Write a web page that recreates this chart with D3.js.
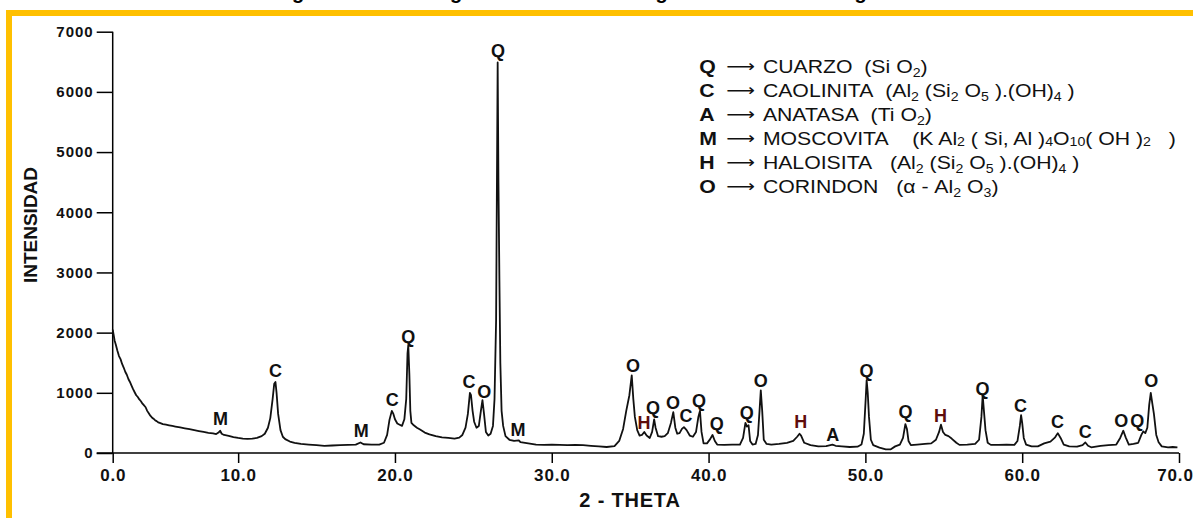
<!DOCTYPE html>
<html>
<head>
<meta charset="utf-8">
<script src="https://cdn.jsdelivr.net/npm/d3@7"></script>
<style>
  body { margin: 0; background: #fff; }
  svg { display: block; font-family: "Liberation Sans", Arial, sans-serif; }
  .formula { white-space: pre; }
</style>
</head>
<body>
<div id="chart"></div>
<script>
// 2-theta / intensity
const twoTheta = [
  2.00, 2.05, 2.12, 2.20, 2.30, 2.40, 2.50, 2.60, 2.70, 2.80, 2.90, 3.00, 3.10, 3.20, 3.30, 3.40,
  3.50, 3.60, 3.70, 3.80, 3.90, 4.00, 4.10, 4.20, 4.30, 4.40, 4.50, 4.60, 4.70, 4.80, 4.90, 5.00,
  5.20, 5.40, 5.60, 5.80, 6.00, 6.30, 6.60, 6.90, 7.20, 7.50, 7.80, 8.10, 8.40, 8.60, 8.75, 8.85,
  8.95, 9.10, 9.40, 9.70, 10.00, 10.30, 10.60, 10.90, 11.20, 11.50, 11.70, 11.90, 12.05, 12.20, 12.30, 12.38,
  12.45, 12.55, 12.70, 12.85, 13.00, 13.30, 13.60, 14.00, 14.50, 15.00, 15.50, 16.00, 16.50, 17.00, 17.50, 17.80,
  18.00, 18.50, 19.00, 19.30, 19.50, 19.65, 19.80, 19.90, 20.00, 20.15, 20.30, 20.45, 20.60, 20.72, 20.80, 20.85,
  20.92, 20.98, 21.05, 21.20, 21.40, 21.60, 21.90, 22.20, 22.60, 23.00, 23.40, 23.80, 24.10, 24.30, 24.50, 24.65,
  24.78, 24.85, 24.95, 25.05, 25.20, 25.35, 25.48, 25.58, 25.68, 25.80, 25.95, 26.10, 26.25, 26.35, 26.45, 26.55,
  26.60, 26.66, 26.72, 26.80, 26.90, 27.05, 27.30, 27.60, 27.90, 28.00, 28.50, 29.00, 29.50, 30.00, 30.50, 31.00,
  31.50, 32.00, 32.50, 33.00, 33.50, 34.00, 34.30, 34.55, 34.75, 34.95, 35.10, 35.20, 35.30, 35.45, 35.60, 35.75,
  35.90, 36.05, 36.25, 36.40, 36.53, 36.62, 36.78, 37.00, 37.20, 37.40, 37.60, 37.75, 37.88, 38.00, 38.15, 38.30,
  38.43, 38.60, 38.80, 39.00, 39.20, 39.35, 39.45, 39.55, 39.68, 39.90, 40.10, 40.25, 40.40, 40.55, 41.00, 41.50,
  42.00, 42.20, 42.35, 42.45, 42.55, 42.65, 42.80, 43.00, 43.15, 43.25, 43.33, 43.42, 43.52, 43.70, 44.00, 44.50,
  45.00, 45.40, 45.65, 45.80, 45.90, 46.10, 46.50, 47.00, 47.50, 47.90, 48.10, 48.50, 49.00, 49.50, 49.75, 49.90,
  50.02, 50.08, 50.15, 50.23, 50.35, 50.50, 50.90, 51.30, 51.60, 51.90, 52.20, 52.40, 52.55, 52.65, 52.75, 52.90,
  53.30, 53.80, 54.20, 54.50, 54.70, 54.82, 54.95, 55.10, 55.30, 55.50, 55.80, 56.00, 56.50, 57.00, 57.25, 57.40,
  57.48, 57.56, 57.66, 57.80, 58.00, 58.50, 59.00, 59.50, 59.70, 59.85, 59.93, 60.00, 60.10, 60.25, 60.60, 61.00,
  61.40, 61.80, 62.10, 62.27, 62.45, 62.65, 63.00, 63.50, 63.85, 64.03, 64.20, 64.40, 65.00, 65.50, 66.00, 66.25,
  66.45, 66.60, 66.80, 67.10, 67.40, 67.60, 67.72, 67.85, 67.98, 68.10, 68.20, 68.30, 68.40, 68.55, 68.70, 68.90,
  69.30, 69.60, 69.90
];
const intensity = [
  2050, 1980, 1870, 1800, 1700, 1610, 1560, 1480, 1420, 1350, 1300, 1230, 1180, 1120, 1060, 1010,
  960, 930, 890, 860, 820, 790, 760, 700, 660, 620, 590, 570, 545, 530, 510, 500,
  480, 470, 460, 450, 440, 425, 410, 395, 380, 365, 350, 335, 325, 315, 340, 370,
  320, 300, 285, 265, 250, 240, 235, 240, 250, 280, 320, 420, 580, 900, 1150, 1180,
  1000, 650, 380, 270, 230, 190, 170, 150, 140, 130, 120, 125, 130, 135, 140, 175,
  145, 140, 140, 170, 300, 550, 700, 650, 560, 490, 470, 450, 560, 900, 1650, 1790,
  1300, 700, 500, 460, 420, 390, 340, 310, 280, 260, 250, 240, 255, 300, 420, 650,
  1000, 960, 700, 520, 420, 450, 700, 880, 650, 350, 290, 320, 450, 900, 2200, 6490,
  4500, 2900, 1500, 700, 450, 280, 220, 200, 210, 180, 160, 140, 135, 140, 135, 130,
  135, 130, 120, 110, 100, 115, 200, 400, 700, 960, 1290, 900, 600, 380, 290, 300,
  350, 290, 250, 350, 560, 420, 280, 270, 280, 330, 500, 680, 420, 320, 330, 400,
  430, 380, 290, 270, 350, 600, 700, 350, 160, 160, 230, 300, 200, 140, 135, 140,
  140, 250, 500, 440, 460, 200, 140, 150, 300, 700, 1040, 700, 220, 150, 140, 150,
  170, 200, 270, 320, 290, 170, 130, 110, 115, 140, 120, 110, 100, 105, 140, 320,
  900, 1210, 1000, 600, 220, 130, 90, 60, 60, 110, 140, 250, 480, 400, 200, 130,
  140, 150, 160, 220, 350, 470, 350, 300, 280, 240, 170, 135, 140, 150, 220, 600,
  960, 700, 380, 170, 135, 135, 140, 135, 200, 450, 630, 500, 250, 140, 110, 110,
  160, 190, 260, 330, 250, 140, 110, 105, 130, 175, 120, 95, 120, 130, 140, 250,
  370, 260, 140, 150, 170, 300, 360, 330, 420, 800, 1000, 820, 650, 300, 180, 110,
  95, 100, 95
];

// phase letters placed over the peaks (2-theta, intensity level of the letter baseline)
const peakLabels = ["M", "C", "M", "C", "Q", "C", "O", "Q", "M", "O", "H", "Q", "O", "C", "Q",
  "Q", "Q", "O", "H", "A", "Q", "Q", "H", "Q", "C", "C", "C", "O", "Q", "O"];
const peakLabelTheta = [8.87, 12.38, 17.85, 19.83, 20.85, 24.73, 25.69, 26.58, 27.85, 35.18, 35.89, 36.46, 37.74, 38.56, 39.39,
  40.53, 42.44, 43.33, 45.88, 47.92, 50.08, 52.56, 54.79, 57.47, 59.89, 62.25, 64.03, 66.32, 67.34, 68.23];
const peakLabelLevel = [465, 1261, 266, 780, 1825, 1079, 913, 6572, 282, 1344, 398, 647, 730, 514, 763,
  382, 564, 1095, 415, 199, 1261, 581, 514, 962, 680, 415, 249, 431, 431, 1095];

const xTickValues = [2, 10, 20, 30, 40, 50, 60, 70];
const xTickLabels = ["0.0", "10.0", "20.0", "30.0", "40.0", "50.0", "60.0", "70.0"];
const yTickValues = [0, 1000, 2000, 3000, 4000, 5000, 6000, 7000];

const legendKeys = ["Q", "C", "A", "M", "H", "O"];
const legendNames = ["CUARZO", "CAOLINITA", "ANATASA", "MOSCOVITA", "HALOISITA", "CORINDON"];
// [text, kind] kind 0 = normal, 1 = subscript, 2 = small inline
const legendFormulas = [
  [["(Si O", 0], ["2", 1], [")", 0]],
  [["(Al", 0], ["2", 1], [" (Si", 0], ["2", 1], [" O", 0], ["5", 1], [" ).(OH)", 0], ["4", 1], [" )", 0]],
  [["(Ti O", 0], ["2", 1], [")", 0]],
  [["  (K Al", 0], ["2", 2], [" ( Si, Al )", 0], ["4", 2], ["O", 0], ["10", 2], ["( OH )", 0], ["2", 2], ["   )", 0]],
  [[" (Al", 0], ["2", 1], [" (Si", 0], ["2", 1], [" O", 0], ["5", 1], [" ).(OH)", 0], ["4", 1], [" )", 0]],
  [[" (\u03b1 - Al", 0], ["2", 1], [" O", 0], ["3", 1], [")", 0]]
];

const W = 1193, H = 518;
const margin = { top: 31.7, right: 14, bottom: 65, left: 112.7 },
  width = W - margin.left - margin.right,
  height = H - margin.top - margin.bottom;

const root = d3.select("#chart").append("svg")
  .attr("width", W)
  .attr("height", H);

root.append("rect").attr("width", W).attr("height", H).attr("fill", "#fff");

// yellow frame (top and left edges only)
root.append("rect").attr("x", 6).attr("y", 10).attr("width", W - 6).attr("height", 6).attr("fill", "#ffc000");
root.append("rect").attr("x", 6).attr("y", 10).attr("width", 6).attr("height", H - 10).attr("fill", "#ffc000");

// title, cut off by the top of the picture
root.append("text")
  .attr("x", 590)
  .attr("y", -1)
  .attr("text-anchor", "middle")
  .attr("font-size", 20)
  .attr("font-weight", "bold")
  .text("Figura 4.1 Difractograma de la arcilla original: fases mineralógicas");

const svg = root.append("g")
  .attr("transform", `translate(${margin.left},${margin.top})`);

const x = d3.scaleLinear().domain([2, 70]).range([0, width]);
const y = d3.scaleLinear().domain([0, 7000]).range([height, 0]);

// Y axis
const gy = svg.append("g")
  .call(d3.axisLeft(y).tickValues(yTickValues).tickSize(16).tickSizeOuter(0).tickPadding(3).tickFormat(d3.format("d")));
gy.select(".domain").attr("stroke-width", 1.5).attr("d", `M0,0V${height}`);
gy.selectAll(".tick line").attr("stroke-width", 1.5);
gy.selectAll(".tick text")
  .attr("font-size", 15)
  .attr("font-weight", "bold")
  .attr("letter-spacing", 1)
  .attr("font-family", "Liberation Sans, Arial, sans-serif")
  .attr("fill", "#111");

// X axis
const gx = svg.append("g")
  .attr("transform", `translate(0,${height})`)
  .call(d3.axisBottom(x).tickValues(xTickValues).tickSize(10).tickSizeOuter(0).tickPadding(6)
    .tickFormat((d, i) => xTickLabels[i]));
gx.select(".domain").attr("stroke-width", 1.5).attr("d", `M-16,0H${width}`);
gx.selectAll(".tick line").attr("stroke-width", 1.5);
gx.selectAll(".tick text")
  .attr("font-size", 17)
  .attr("font-weight", "bold")
  .attr("letter-spacing", 0.8)
  .attr("font-family", "Liberation Sans, Arial, sans-serif")
  .attr("fill", "#111");
// last label sits a little left of its tick, flush with the picture edge
gx.selectAll(".tick text").filter(d => d === 70).attr("dx", -4);

// axis titles
root.append("text")
  .attr("transform", "translate(37,225) rotate(-90)")
  .attr("text-anchor", "middle")
  .attr("font-size", 19)
  .attr("font-weight", "bold")
  .attr("fill", "#111")
  .text("INTENSIDAD");

root.append("text")
  .attr("x", 630)
  .attr("y", 507)
  .attr("text-anchor", "middle")
  .attr("font-size", 20)
  .attr("font-weight", "bold")
  .attr("letter-spacing", 0.8)
  .attr("fill", "#111")
  .text("2 - THETA");

// the pattern
const data = twoTheta.map((t, i) => ({ t, v: intensity[i] }));
const line = d3.line()
  .x(d => x(d.t))
  .y(d => y(d.v));

svg.append("path")
  .datum(data)
  .attr("fill", "none")
  .attr("stroke", "#111")
  .attr("stroke-width", 1.8)
  .attr("stroke-linejoin", "round")
  .attr("d", line);

// peak letters
svg.selectAll("text.peak")
  .data(peakLabels)
  .join("text")
  .attr("class", "peak")
  .attr("x", (d, i) => x(peakLabelTheta[i]))
  .attr("y", (d, i) => y(peakLabelLevel[i]))
  .attr("text-anchor", "middle")
  .attr("font-size", 18)
  .attr("font-weight", "bold")
  .attr("fill", d => d === "H" ? "#5e0c0c" : "#111")
  .text(d => d);

// legend
const legend = root.append("g")
  .attr("transform", "translate(698,73) scale(1.18,1)");

legendKeys.forEach((k, i) => {
  const row = legend.append("g").attr("transform", `translate(0,${i * 24})`);
  row.append("text")
    .attr("x", 1)
    .attr("font-size", 18)
    .attr("font-weight", "bold")
    .attr("fill", "#111")
    .text(k);
  row.append("text")
    .attr("x", 24)
    .attr("y", -1)
    .attr("font-size", 17)
    .attr("font-family", "DejaVu Sans, sans-serif")
    .attr("fill", "#111")
    .text("\u27f6");
  const name = row.append("text")
    .attr("x", 55)
    .attr("font-size", 18)
    .attr("fill", "#111")
    .text(legendNames[i]);
  const nameEnd = 55 + name.node().getComputedTextLength();
  const f = row.append("text")
    .attr("class", "formula")
    .attr("x", nameEnd + 10)
    .attr("font-size", 18)
    .attr("fill", "#111");
  let shift = 0;
  legendFormulas[i].forEach(([s, kind]) => {
    const target = kind === 1 ? 4 : kind === 2 ? 1 : 0;
    f.append("tspan")
      .attr("dy", target - shift)
      .attr("font-size", kind === 0 ? 18 : 12)
      .text(s);
    shift = target;
  });
});
</script>
</body>
</html>
